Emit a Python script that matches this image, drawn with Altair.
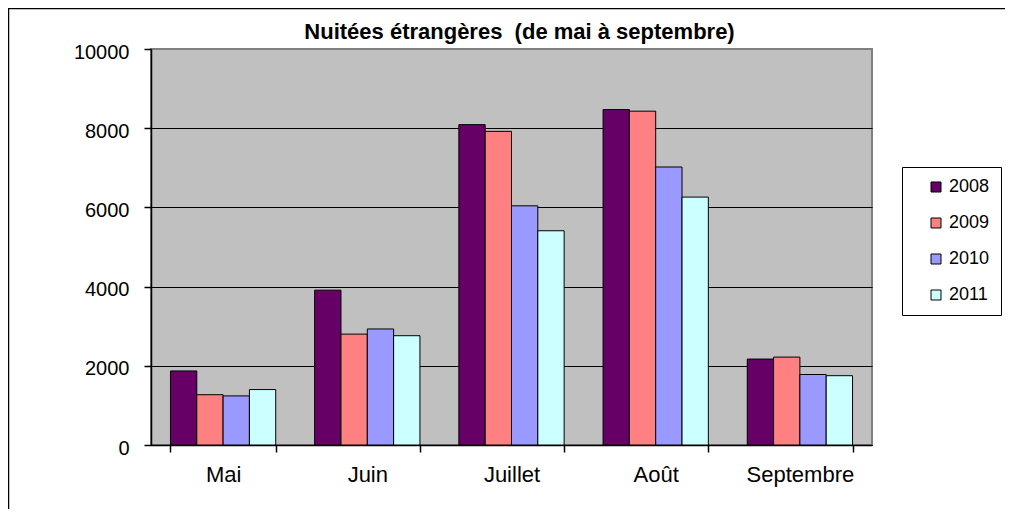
import altair as alt
import pandas as pd

months = ["Mai", "Juin", "Juillet", "Août", "Septembre"]
years = ["2008", "2009", "2010", "2011"]
v2008 = [1870, 3910, 8090, 8470, 2170]
v2009 = [1270, 2800, 7920, 8430, 2220]
v2010 = [1240, 2930, 6040, 7020, 1780]
v2011 = [1400, 2760, 5410, 6260, 1750]
colors = ["#660066", "#FF8080", "#9999FF", "#CCFFFF"]
y_ticks = [0, 2000, 4000, 6000, 8000, 10000]
title_text = "Nuitées étrangères\u00a0 (de mai à septembre)"

series = {"2008": v2008, "2009": v2009, "2010": v2010, "2011": v2011}
rows = []
for yr in years:
    for m, v in zip(months, series[yr]):
        rows.append({"Mois": m, "Année": yr, "Nuitées": v})
df = pd.DataFrame(rows)

F = "Liberation Sans"

bars = alt.Chart(df).mark_bar(stroke="black", strokeWidth=1).encode(
    x=alt.X("Mois:N", sort=months,
            scale=alt.Scale(paddingInner=0.27, paddingOuter=0.135),
            axis=alt.Axis(title=None, labelAngle=0, labelFont=F, labelFontSize=22,
                          labelColor="black", labelPadding=12, tickBand="extent",
                          tickSize=7, tickColor="black", tickWidth=1.5,
                          domainColor="black", domainWidth=1.5, grid=False)),
    xOffset=alt.XOffset("Année:N", sort=years,
                        scale=alt.Scale(paddingInner=0, paddingOuter=0)),
    y=alt.Y("Nuitées:Q", scale=alt.Scale(domain=[0, 10000], nice=False),
            axis=alt.Axis(title=None, values=y_ticks, format="d", labelFont=F, labelFontSize=20,
                          labelColor="black", labelPadding=15, labelOffset=3,
                          tickSize=7, tickColor="black", tickWidth=1.5,
                          domainColor="black", domainWidth=1.5,
                          grid=True, gridWidth=1.2,
                          gridColor={"condition": {"test": "datum.value >= 10000", "value": "#808080"},
                                     "value": "black"})),
    color=alt.Color("Année:N", sort=years,
                    scale=alt.Scale(domain=years, range=colors),
                    legend=alt.Legend(title=None, orient="none", legendX=751, legendY=118,
                                      direction="vertical", strokeColor="black",
                                      fillColor="white", padding=11,
                                      symbolType="square", symbolSize=100,
                                      symbolStrokeColor="black", symbolStrokeWidth=1,
                                      symbolOffset=14, labelOffset=4,
                                      labelFont=F, labelFontSize=18, labelColor="black",
                                      rowPadding=18, labelExpr="datum.label + '   '")),
)

frame_src = alt.Data(values=[{}])
top_line = alt.Chart(frame_src).mark_rule(stroke="black", strokeWidth=1.5).encode(
    x=alt.value(-143), x2=alt.value(3000), y=alt.value(-40.5))
left_line = alt.Chart(frame_src).mark_rule(stroke="black", strokeWidth=1.5).encode(
    x=alt.value(-142.5), y=alt.value(-41), y2=alt.value(3000))

chart = alt.layer(top_line, left_line, bars).properties(
    width=721, height=396,
    autosize=alt.AutoSizeParams(type="none"),
    padding={"left": 143, "top": 41, "right": 133, "bottom": 64},
    title=alt.Title(title_text, font=F, fontSize=22, fontWeight="bold", color="black",
                    anchor="middle", frame="group", dx=8, offset=0,
                    baseline="alphabetic", dy=54),
    background="white",
).configure_view(fill="#C0C0C0", stroke="#808080", strokeWidth=2)

chart.save("out.html", embed_options={"renderer": "svg", "actions": False})
